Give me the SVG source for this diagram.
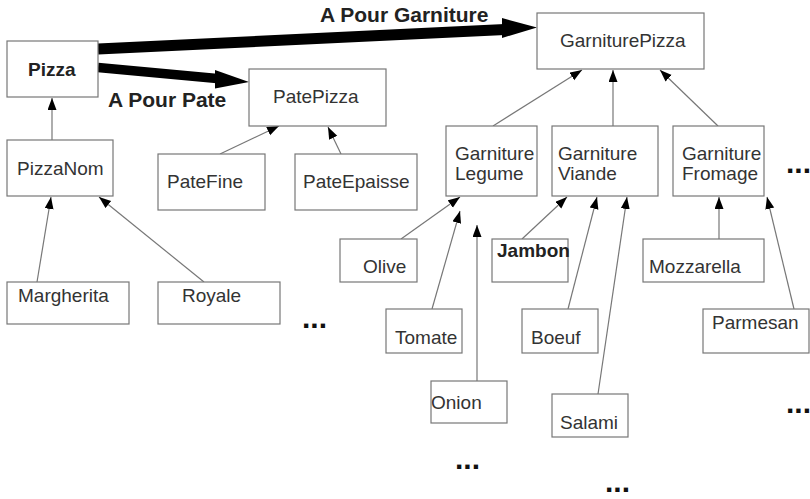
<svg xmlns="http://www.w3.org/2000/svg" width="810" height="499" viewBox="0 0 810 499">
<defs>
<marker id="ah" markerUnits="userSpaceOnUse" markerWidth="13" markerHeight="10" refX="12" refY="4.5" orient="auto">
<path d="M0,0 L12,4.5 L0,9 z" fill="#000"/>
</marker>
<style>
.box{fill:#fff;stroke:#777;stroke-width:1.2}
.t{font-family:"Liberation Sans",Arial,sans-serif;font-size:19px;fill:#333}
.b{font-weight:bold;fill:#222}
.lbl{font-family:"Liberation Sans",Arial,sans-serif;font-size:21px;font-weight:bold;fill:#222}
.dots{font-family:"Liberation Sans",Arial,sans-serif;font-size:30px;font-weight:bold;fill:#111}
.c{stroke:#777;stroke-width:1.2;fill:none;marker-end:url(#ah)}
.thick{stroke:#000;fill:none}
</style>
</defs>
<rect width="810" height="499" fill="#fff"/>

<g id="connectors">
<line class="thick" x1="98" y1="49" x2="505" y2="29.5" stroke-width="11"/>
<polygon points="502,18 537,27.5 502,38" fill="#000"/>
<line class="thick" x1="98" y1="67.5" x2="217" y2="78.5" stroke-width="9.5"/>
<polygon points="215,70 249,82 215,88.5" fill="#000"/>
<line class="c" x1="52" y1="140" x2="52" y2="98"/>
<line class="c" x1="37" y1="282" x2="51" y2="197"/>
<line class="c" x1="204" y1="282" x2="99" y2="197"/>
<line class="c" x1="220" y1="154" x2="279" y2="126"/>
<line class="c" x1="341" y1="154" x2="328" y2="127"/>
<line class="c" x1="493" y1="126" x2="582" y2="70"/>
<line class="c" x1="613" y1="126" x2="613" y2="70"/>
<line class="c" x1="718" y1="126" x2="660" y2="70"/>
<line class="c" x1="401" y1="239" x2="460" y2="197"/>
<line class="c" x1="432" y1="309" x2="460" y2="211"/>
<line class="c" x1="477" y1="381" x2="477" y2="225"/>
<line class="c" x1="522" y1="239" x2="567" y2="197"/>
<line class="c" x1="568" y1="309" x2="597" y2="197"/>
<line class="c" x1="598" y1="394" x2="627" y2="197"/>
<line class="c" x1="719" y1="239" x2="719" y2="197"/>
<line class="c" x1="794" y1="309" x2="767" y2="197"/>
</g>

<text class="lbl" x="320" y="22">A Pour Garniture</text>
<text class="lbl" x="108" y="107">A Pour Pate</text>

<g id="Pizza"><rect class="box" x="7" y="41" width="91" height="56"/><text class="t b" x="28" y="76">Pizza</text></g>
<g id="PatePizza"><rect class="box" x="249" y="69" width="137" height="57"/><text class="t" x="273" y="103">PatePizza</text></g>
<g id="GarniturePizza"><rect class="box" x="537" y="13" width="167" height="56"/><text class="t" x="560" y="47">GarniturePizza</text></g>
<g id="PizzaNom"><rect class="box" x="7" y="140" width="106" height="56"/><text class="t" x="17" y="175">PizzaNom</text></g>
<g id="PateFine"><rect class="box" x="158" y="154" width="107" height="56"/><text class="t" x="167" y="188">PateFine</text></g>
<g id="PateEpaisse"><rect class="box" x="295" y="154" width="122" height="56"/><text class="t" x="303" y="188">PateEpaisse</text></g>
<g id="GarnitureLegume"><rect class="box" x="446" y="126" width="91" height="70"/><text class="t" x="455" y="160">Garniture</text><text class="t" x="455" y="180">Legume</text></g>
<g id="GarnitureViande"><rect class="box" x="552" y="126" width="106" height="70"/><text class="t" x="558" y="160">Garniture</text><text class="t" x="558" y="180">Viande</text></g>
<g id="GarnitureFromage"><rect class="box" x="673" y="126" width="91" height="70"/><text class="t" x="682" y="160">Garniture</text><text class="t" x="682" y="180">Fromage</text></g>
<g id="Margherita"><rect class="box" x="7" y="282" width="122" height="42"/><text class="t" x="18" y="302">Margherita</text></g>
<g id="Royale"><rect class="box" x="158" y="282" width="122" height="42"/><text class="t" x="182" y="302">Royale</text></g>
<g id="Olive"><rect class="box" x="340" y="239" width="77" height="43"/><text class="t" x="363" y="273">Olive</text></g>
<g id="Jambon"><rect class="box" x="492" y="239" width="76" height="43"/><text class="t b" x="497" y="257">Jambon</text></g>
<g id="Mozzarella"><rect class="box" x="643" y="239" width="121" height="43"/><text class="t" x="649" y="273">Mozzarella</text></g>
<g id="Tomate"><rect class="box" x="386" y="309" width="76" height="44"/><text class="t" x="395" y="344">Tomate</text></g>
<g id="Boeuf"><rect class="box" x="522" y="309" width="76" height="44"/><text class="t" x="531" y="344">Boeuf</text></g>
<g id="Parmesan"><rect class="box" x="703" y="309" width="106" height="44"/><text class="t" x="712" y="329">Parmesan</text></g>
<g id="Onion"><rect class="box" x="431" y="381" width="76" height="42"/><text class="t" x="431" y="409">Onion</text></g>
<g id="Salami"><rect class="box" x="552" y="394" width="76" height="43"/><text class="t" x="560" y="429">Salami</text></g>

<text class="dots" x="302" y="328">...</text>
<text class="dots" x="455" y="469">...</text>
<text class="dots" x="605" y="492">...</text>
<text class="dots" x="786" y="413">...</text>
<text class="dots" x="786" y="173">...</text>
</svg>
